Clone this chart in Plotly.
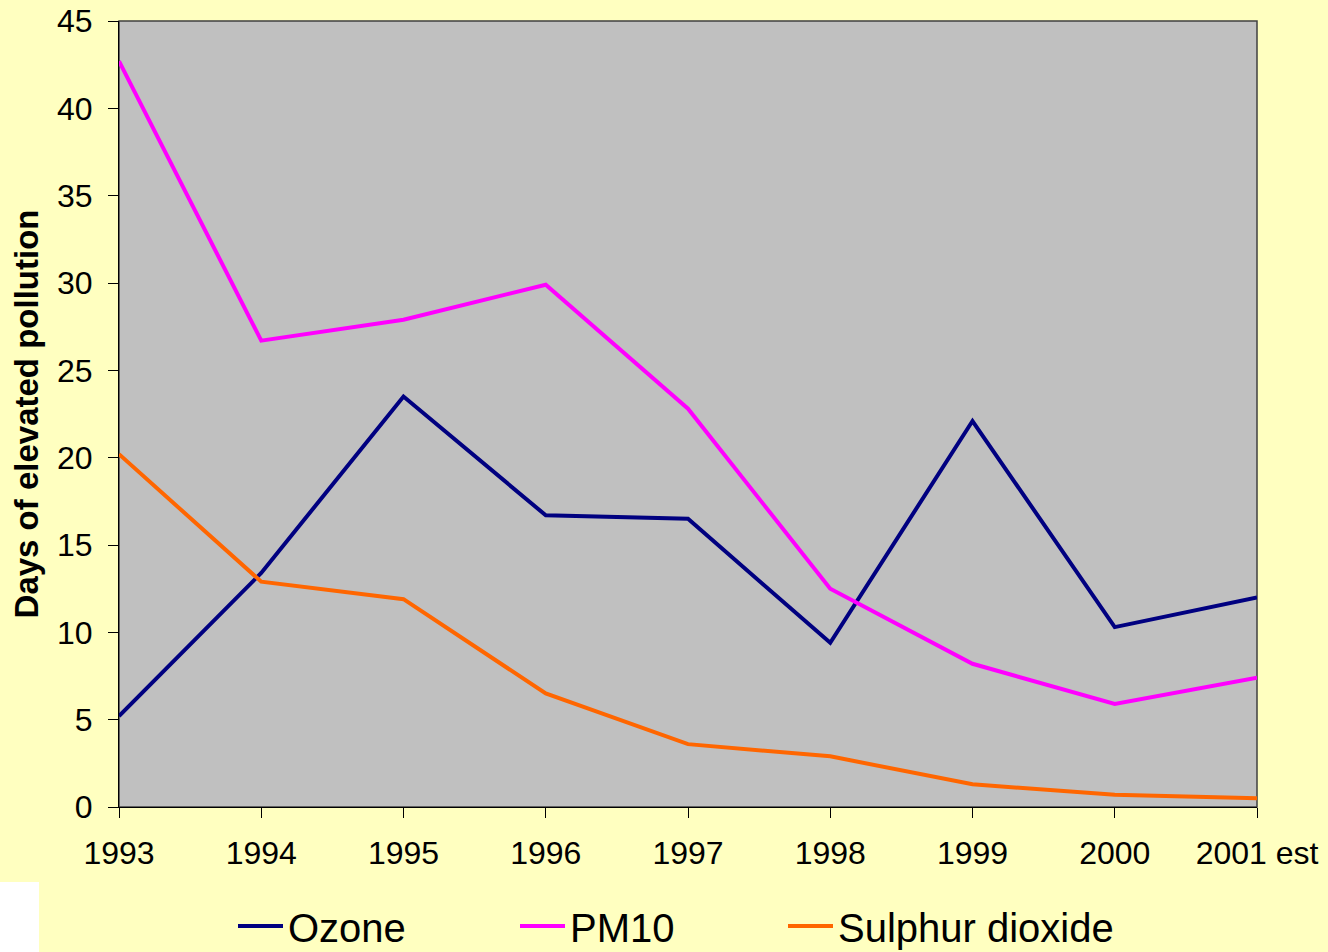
import plotly.graph_objects as go

years = ["1993", "1994", "1995", "1996", "1997", "1998", "1999", "2000", "2001 est"]
ozone = [5.2, 13.4, 23.5, 16.7, 16.5, 9.4, 22.1, 10.3, 12.0]
pm10 = [42.7, 26.7, 27.9, 29.9, 22.8, 12.5, 8.2, 5.9, 7.4]
sulphur = [20.2, 12.9, 11.9, 6.5, 3.6, 2.9, 1.3, 0.7, 0.5]
y_ticks = [0, 5, 10, 15, 20, 25, 30, 35, 40, 45]

FONT = "Liberation Sans, Arial, sans-serif"
W, H = 1328, 952
L, R, T, B = 119, 71, 21, 145
PW, PH = W - L - R, H - T - B

def px_x(p):
    return (p - L) / PW

def px_y(p):
    return (H - B - p) / PH

fig = go.Figure()
fig.add_trace(go.Scatter(x=years, y=ozone, mode="lines", name="Ozone",
                         line=dict(color="#000080", width=4), legendwidth=222))
fig.add_trace(go.Scatter(x=years, y=pm10, mode="lines", name="PM10",
                         line=dict(color="#FF00FF", width=4), legendwidth=208))
fig.add_trace(go.Scatter(x=years, y=sulphur, mode="lines", name="Sulphur dioxide",
                         line=dict(color="#FF6600", width=4)))

fig.update_layout(
    width=W, height=H,
    margin=dict(l=L, r=R, t=T, b=B, autoexpand=False),
    paper_bgcolor="#FFFFC0",
    plot_bgcolor="#C0C0C0",
    font=dict(family=FONT, color="black", size=32),
    showlegend=True,
    legend=dict(orientation="h", x=px_x(233), xanchor="left", y=px_y(926), yanchor="middle",
                bgcolor="rgba(0,0,0,0)", font=dict(size=40, family=FONT, color="black"),
                itemwidth=45, tracegroupgap=0),
    xaxis=dict(type="category", range=[0, 8], showgrid=False, zeroline=False,
               showline=True, linecolor="black", linewidth=1,
               ticks="outside", ticklen=10, tickcolor="black", tickwidth=1,
               ticklabelstandoff=8,
               tickfont=dict(size=32, family=FONT, color="black"), fixedrange=True),
    yaxis=dict(range=[0, 45], tickvals=y_ticks, showgrid=False, zeroline=False,
               showline=True, linecolor="black", linewidth=1,
               ticks="outside", ticklen=10, tickcolor="black", tickwidth=1,
               ticklabelstandoff=9,
               tickfont=dict(size=32, family=FONT, color="black"),
               title=dict(text="<b>Days of elevated pollution</b>",
                          font=dict(size=33, family=FONT, color="black"), standoff=8)),
    shapes=[
        dict(type="rect", xref="paper", yref="paper", x0=0, x1=1, y0=0, y1=1,
             line=dict(color="#404040", width=1.5), fillcolor="rgba(0,0,0,0)", layer="below"),
        dict(type="rect", xref="paper", yref="paper", x0=px_x(0), x1=px_x(39),
             y0=px_y(952), y1=px_y(882), line=dict(width=0), fillcolor="white", layer="above"),
    ],
)

fig.write_html(
    "out.html",
    config={"displayModeBar": False},
    post_script="document.body.style.margin='0';document.body.style.overflow='hidden';",
)
